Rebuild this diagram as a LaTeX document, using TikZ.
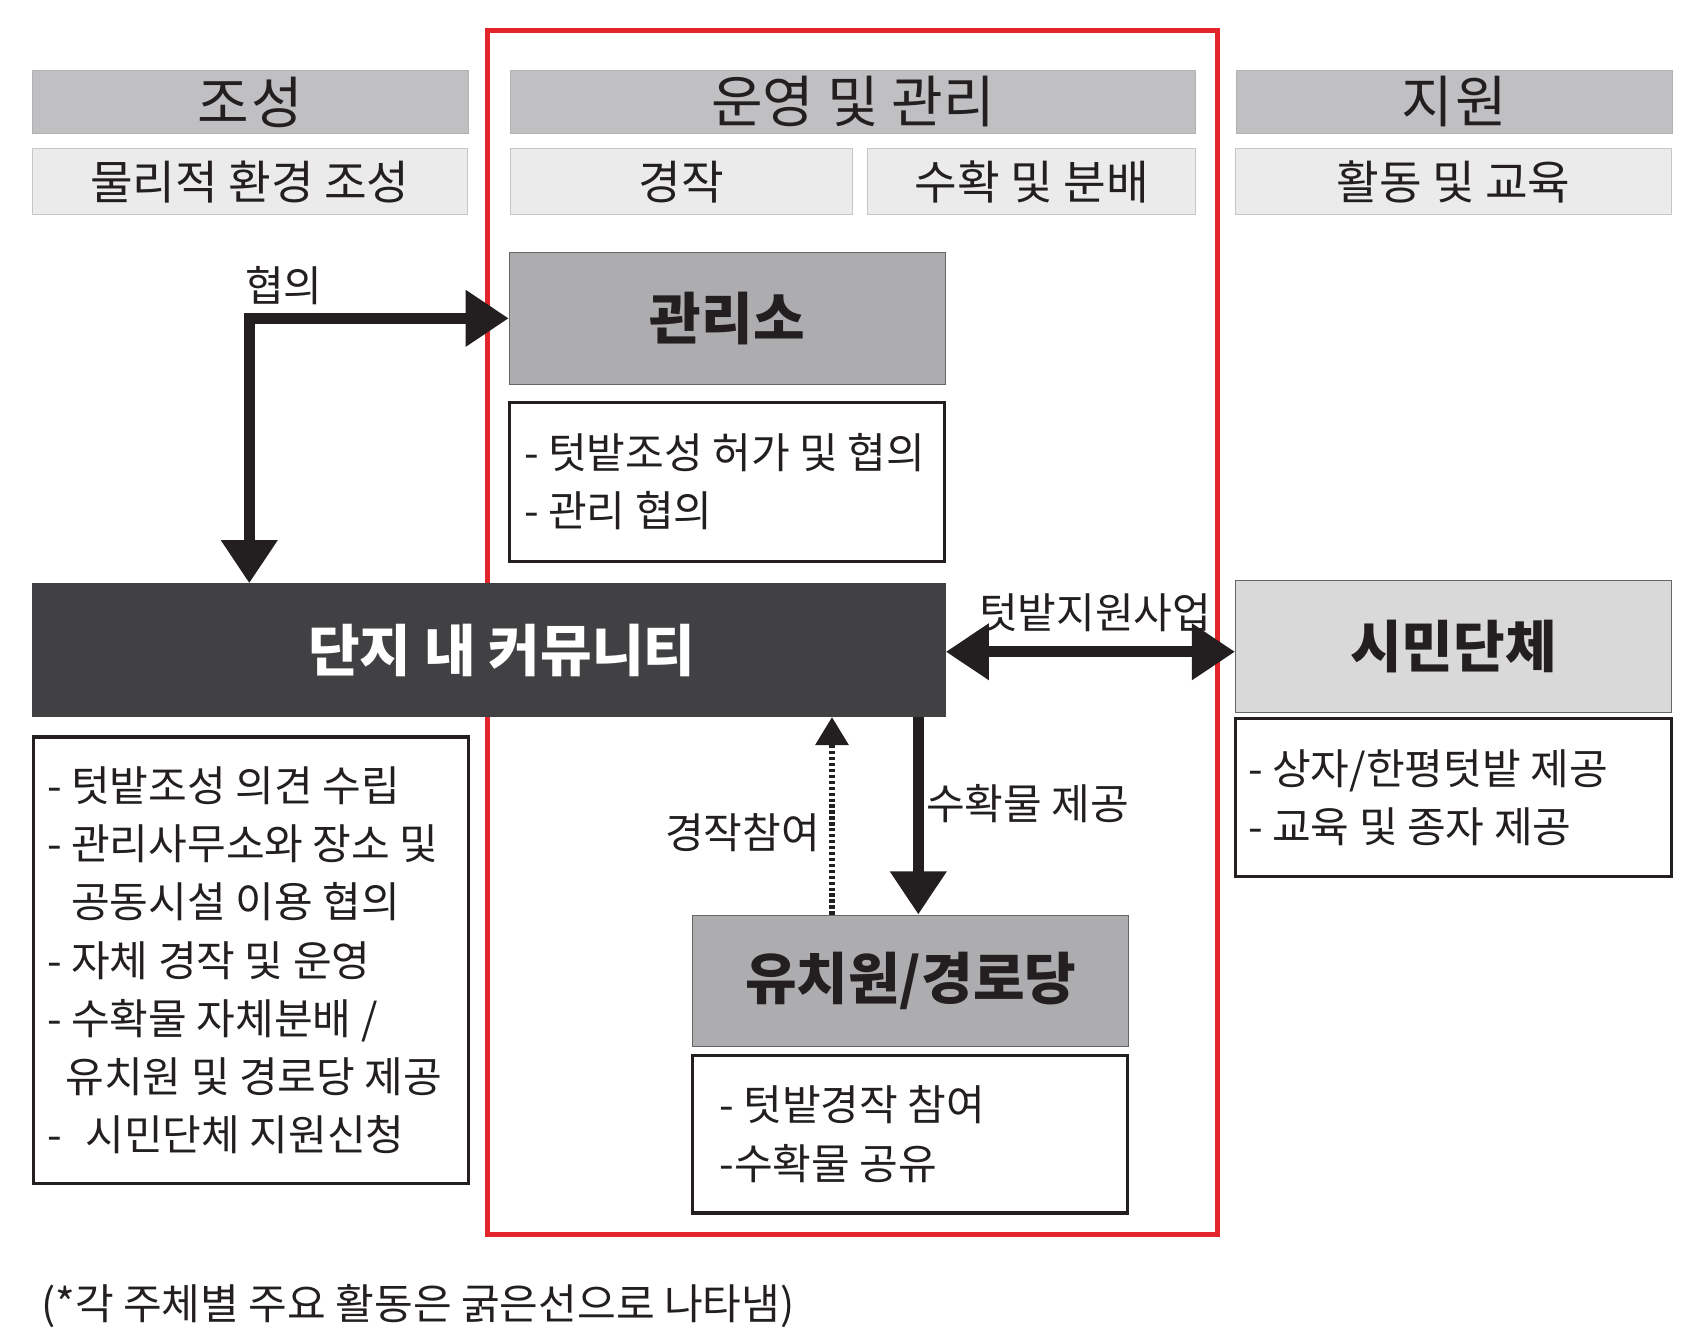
\documentclass[tikz,border=0pt]{standalone}
\usepackage{fontspec}
\setmainfont{Noto Sans CJK KR}
\usetikzlibrary{arrows.meta}
\definecolor{hdrdark}{HTML}{C0C0C2}
\definecolor{hdrlight}{HTML}{EBEBEB}
\definecolor{midgray}{HTML}{ADADAF}
\definecolor{simgray}{HTML}{D9D9D9}
\definecolor{commgray}{HTML}{414042}
\definecolor{textc}{HTML}{231F20}
\definecolor{redc}{HTML}{E3242B}
\begin{document}
\begin{tikzpicture}[x=1pt,y=-1pt,
  hdr/.style={draw=gray!60, line width=1pt, fill=hdrdark, text=textc, inner sep=0pt, font=\fontsize{52}{60}\selectfont},
  sub/.style={draw=gray!45, line width=1pt, fill=hdrlight, text=textc, inner sep=0pt, font=\fontsize{43}{52}\selectfont},
  ent/.style={draw=gray!80!black, line width=1pt, fill=midgray, text=textc, inner sep=0pt, font=\fontsize{52}{60}\selectfont\bfseries},
  descbox/.style={draw=textc, line width=3pt, fill=white, inner sep=0pt},
  desctext/.style={align=left, text=textc, inner sep=0pt, anchor=west, font=\fontsize{39}{54}\selectfont},
  lbl/.style={text=textc, inner sep=0pt, font=\fontsize{39}{48}\selectfont},
  bigarrow/.style={line width=10pt, draw=textc, line join=miter},
  tip/.tip={Triangle[length=40pt,width=50pt]},
  smalltip/.tip={Triangle[length=26pt,width=30pt]}
]
\useasboundingbox (0,0) rectangle (1568,1241);
% red frame
\node[draw=redc, line width=5pt, minimum width=676pt, minimum height=1116pt, inner sep=0pt] (frame) at (790,586) {};
% headers
\node[hdr, minimum width=404pt, minimum height=59pt] (h1) at (232,94.5) {조\hspace{2pt}성};
\node[hdr, minimum width=635pt, minimum height=59pt] (h2) at (790.5,94.5) {운영\hspace{12pt}및\hspace{12pt}관리};
\node[hdr, minimum width=404pt, minimum height=59pt] (h3) at (1348,94.5) {지\hspace{2pt}원};
\node[sub, minimum width=403pt, minimum height=61pt] (s1) at (231.5,168.5) {물리적 환경 조성};
\node[sub, minimum width=317pt, minimum height=61pt] (s2) at (631.5,168.5) {경작};
\node[sub, minimum width=304pt, minimum height=61pt] (s3) at (956,168.5) {수확 및 분배};
\node[sub, minimum width=404pt, minimum height=61pt] (s4) at (1347,168.5) {활동 및 교육};
% entities
\node[ent, minimum width=404pt, minimum height=122pt] (kwanri) at (674,295) {관리소};
\node[descbox, minimum width=403pt, minimum height=147pt] (kdesc) at (673.5,446.5) {};
\node[desctext] (kdesct) at ([xshift=15pt]kdesc.west) {- 텃밭조성 허가 및 협의\\- 관리 협의};

\node[ent, fill=commgray, draw=commgray, text=white, minimum width=846pt, minimum height=123pt] (comm) at (453,602.5) {\hspace{24pt}단지 내 커뮤니티};
\node[descbox, minimum width=403pt, minimum height=414pt] (ldesc) at (232.5,890) {};
\node[desctext] (ldesct) at ([xshift=14pt]ldesc.west) {- 텃밭조성 의견 수립\\- 관리사무소와 장소 및\\\phantom{- }공동시설 이용 협의\\- 자체 경작 및 운영\\- 수확물 자체분배 /\\\hspace{17pt}유치원 및 경로당 제공\\-\hspace{22pt}시민단체 지원신청};

\node[ent, fill=simgray, minimum width=404pt, minimum height=122pt] (simin) at (1347,599) {시민단체};
\node[descbox, minimum width=404pt, minimum height=146pt] (sdesc) at (1347,739) {};
\node[desctext] (sdesct) at ([xshift=13pt]sdesc.west) {- 상자/한평텃밭 제공\\- 교육 및 종자 제공};

\node[ent, minimum width=404pt, minimum height=122pt] (yuchi) at (844,909) {유치원/경로당};
\node[descbox, minimum width=403pt, minimum height=146pt] (ydesc) at (843.5,1051) {};
\node[desctext] (ydesct) at ([xshift=26pt]ydesc.west) {- 텃밭경작 참여\\-수확물 공유};

% connectors
\coordinate (hx) at (231,295);
\coordinate (hv) at (851,0);
\coordinate (dv) at (771,0);
\draw[bigarrow, {tip}-{tip}] (kwanri.west) -- (hx) -- (hx |- comm.north);
\draw[bigarrow, {tip}-{tip}] (comm.east |- 0,604) -- (simin.west |- 0,604);
\draw[bigarrow, -{tip}] (comm.south -| hv) -- (yuchi.north -| hv);
\draw[line width=5pt, draw=textc, dash pattern=on 3pt off 2.5pt, -{smalltip}] (yuchi.north -| dv) -- (comm.south -| dv);
% labels
\node[lbl] (l1) at (263,265) {협의};
\node[lbl] (l2) at (1015,568) {텃밭지원사업};
\node[lbl, anchor=west] (l3) at (858,745) {수확물 제공};
\node[lbl, anchor=east] (l4) at (760,772) {경작참여};
\node[lbl, anchor=west] (foot) at (38,1210) {(*각 주체별 주요 활동은 굵은선으로 나타냄)};
\end{tikzpicture}
\end{document}
